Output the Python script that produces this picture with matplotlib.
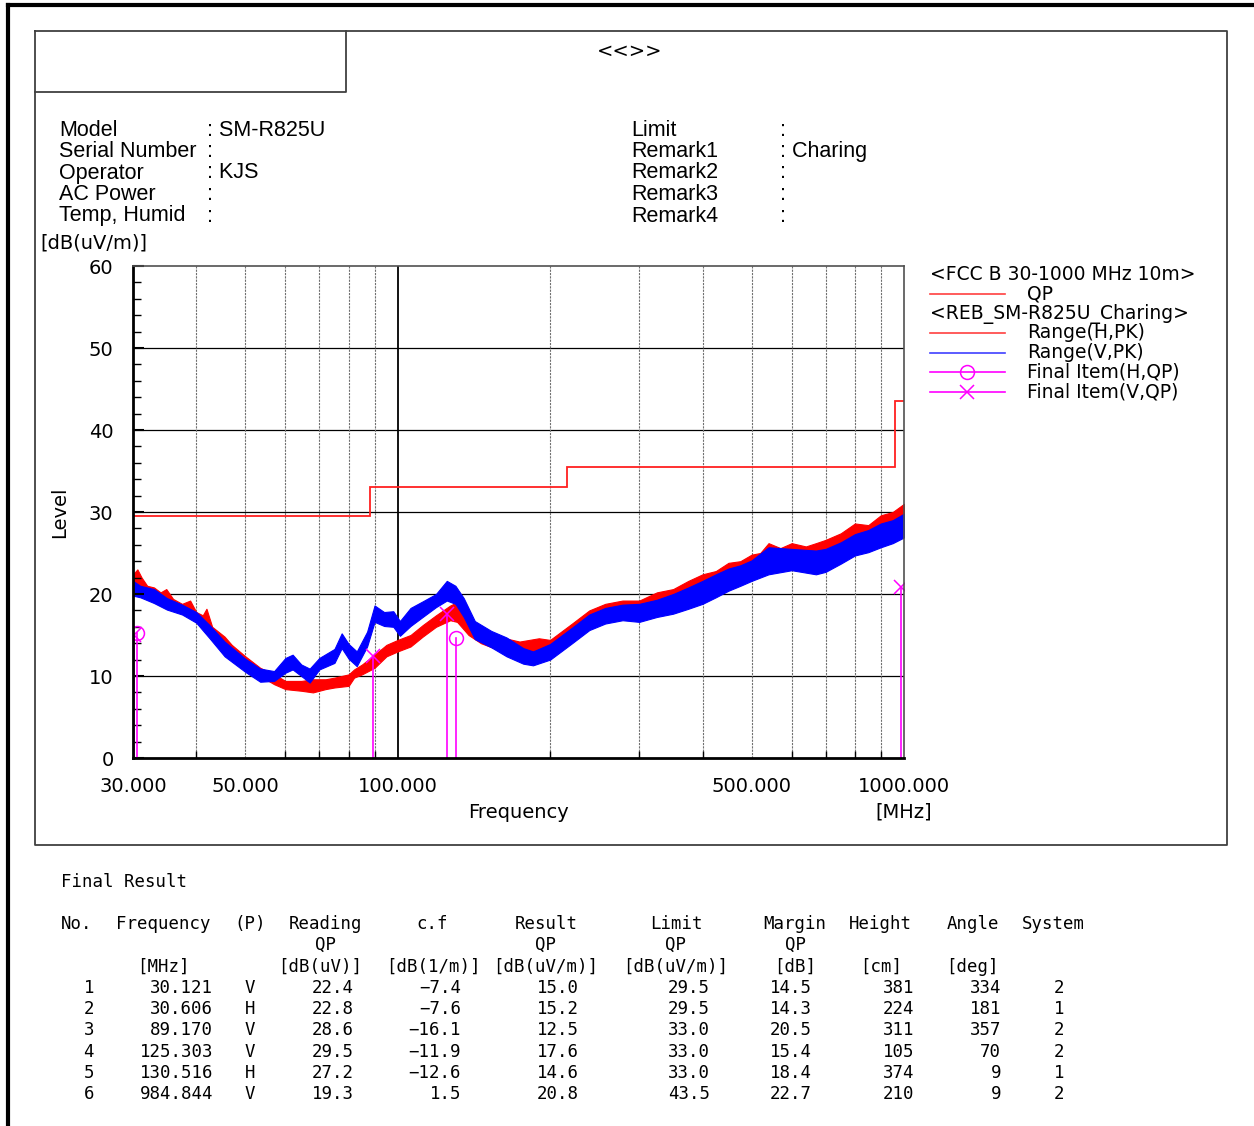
import numpy as np
import matplotlib
matplotlib.use("Agg")
import matplotlib.pyplot as plt

# header info
info_left = ["Model", "Serial Number", "Operator", "AC Power", "Temp, Humid"]
info_left_val = ["SM-R825U", "", "KJS", "", ""]
info_right = ["Limit", "Remark1", "Remark2", "Remark3", "Remark4"]
info_right_val = ["", "Charing", "", "", ""]

# limit line (FCC B 30-1000 MHz 10m, QP)
limit_edges = [30, 88, 216, 960, 1000]
limit_levels = [29.5, 33.0, 35.5, 43.5]

# peak scans: frequency, lower and upper edge of the noise band
h_freq = [30, 30.6, 31.2, 32, 33, 34, 34.9, 36, 37.5, 38.9, 40, 41.2, 41.9, 43, 45.5, 47, 50, 53.5, 57, 60,
          64.5, 68, 72, 75, 80, 82, 85, 90, 95, 100, 106, 112, 119, 127, 131, 138, 146, 158, 174, 190,
          200, 221, 239, 257, 278, 300, 325, 350, 375, 400, 425, 450, 475, 500, 520, 540, 570, 600, 640,
          670, 700, 750, 800, 850, 900, 950, 1000]
h_low = [20.6, 20.8, 20.2, 19.8, 19.4, 19.0, 18.8, 18.2, 17.6, 17.2, 16.6, 16.0, 15.8, 14.8, 13.2, 12.4, 11.2, 10.0, 9.0, 8.4,
         8.2, 8.0, 8.4, 8.6, 8.8, 9.8, 10.2, 11.0, 12.4, 13.0, 13.6, 14.8, 16.0, 16.8, 16.6, 15.0, 14.0, 13.2, 12.6, 12.4,
         12.8, 14.4, 16.0, 16.8, 17.2, 17.4, 18.0, 18.5, 19.0, 19.6, 20.3, 21.0, 21.6, 22.2, 22.6, 23.0, 23.2, 23.4, 23.2,
         23.0, 23.3, 24.2, 25.2, 25.6, 26.2, 26.8, 27.5]
h_high = [22.4, 23.0, 22.0, 21.0, 20.8, 20.2, 20.6, 19.4, 18.8, 19.2, 17.8, 17.4, 18.2, 16.0, 14.8, 13.8, 12.4, 11.0, 10.2, 9.4,
          9.4, 9.6, 9.6, 9.8, 10.2, 10.8, 11.4, 12.6, 13.8, 14.4, 15.0, 16.2, 17.4, 18.6, 19.0, 17.2, 15.8, 14.8, 14.2, 14.6,
          14.4, 16.4, 18.0, 18.8, 19.2, 19.2, 20.2, 20.6, 21.6, 22.4, 22.8, 23.8, 24.0, 24.8, 25.0, 26.2, 25.6, 26.2, 25.8,
          26.2, 26.6, 27.4, 28.6, 28.4, 29.6, 30.0, 31.0]

v_freq = [30, 31, 33, 35, 37.5, 40, 42.5, 45.5, 50, 53.5, 57, 60, 62, 64.5, 67, 70, 75, 77.5, 80, 83, 87, 90, 94, 98,
          101, 106, 112, 119, 125, 130, 135, 142, 153, 164, 177, 185, 200, 221, 239, 257, 278, 300, 325, 350, 375, 400,
          425, 450, 475, 500, 540, 600, 670, 700, 750, 800, 850, 900, 950, 1000]
v_low = [19.8, 19.6, 18.9, 18.1, 17.5, 16.5, 14.6, 12.4, 10.5, 9.3, 9.4, 10.4, 10.8, 10.0, 9.2, 10.8, 11.6, 13.4, 12.1, 11.2, 13.6, 16.6, 16.1, 16.0,
         14.9, 16.1, 17.2, 18.4, 19.2, 18.8, 17.2, 14.5, 13.5, 12.4, 11.5, 11.3, 12.0, 14.0, 15.6, 16.4, 16.8, 16.6, 17.2, 17.6, 18.2, 18.8,
         19.6, 20.4, 21.0, 21.6, 22.4, 22.9, 22.4, 22.7, 23.7, 24.7, 25.1, 25.7, 26.2, 26.9]
v_high = [21.6, 21.0, 20.6, 19.5, 18.7, 17.8, 16.2, 14.2, 12.1, 10.9, 10.6, 12.2, 12.6, 11.4, 10.9, 12.2, 13.3, 15.2, 13.9, 13.0, 15.4, 18.6, 17.8, 17.9,
          16.7, 18.3, 19.1, 20.0, 21.6, 21.0, 19.5, 16.7, 15.5, 14.7, 13.4, 13.0, 13.9, 15.9, 17.5, 18.3, 18.7, 18.8, 19.3, 20.0, 20.8, 21.6,
          22.4, 23.1, 23.5, 24.1, 25.7, 25.5, 25.3, 25.5, 26.3, 27.3, 27.8, 28.6, 29.0, 29.8]

# final QP results
res_no = [1, 2, 3, 4, 5, 6]
res_freq = [30.121, 30.606, 89.170, 125.303, 130.516, 984.844]
res_pol = ["V", "H", "V", "V", "H", "V"]
res_reading = [22.4, 22.8, 28.6, 29.5, 27.2, 19.3]
res_cf = [-7.4, -7.6, -16.1, -11.9, -12.6, 1.5]
res_result = [15.0, 15.2, 12.5, 17.6, 14.6, 20.8]
res_limit = [29.5, 29.5, 33.0, 33.0, 33.0, 43.5]
res_margin = [14.5, 14.3, 20.5, 15.4, 18.4, 22.7]
res_height = [381, 224, 311, 105, 374, 210]
res_angle = [334, 181, 357, 70, 9, 9]
res_system = [2, 1, 2, 2, 1, 2]

x_ticks = [30, 50, 100, 500, 1000]
x_ticklabels = ["30.000", "50.000", "100.000", "500.000", "1000.000"]

W, H = 1254, 1126
fig = plt.figure(figsize=(W / 100, H / 100), dpi=100)
bg = fig.add_axes([0, 0, 1, 1])
bg.set_xlim(0, W)
bg.set_ylim(H, 0)
bg.axis("off")

HF = "Liberation Sans"
PF = "DejaVu Sans"
MF = "DejaVu Sans Mono"
MAG = "#FF00FF"

# frames
bg.plot([8, W], [5, 5], color="black", lw=3)
bg.plot([8, 8], [5, H], color="black", lw=3)
bg.plot([35, 1227, 1227, 35, 35], [31, 31, 845, 845, 31], color="#404040", lw=1.3)
bg.plot([346, 346, 35], [31, 92, 92], color="#404040", lw=1.3)
bg.text(630, 51, "<<>>", fontsize=14, family=PF, ha="center", va="center")

# header block
for i in range(5):
    y = 130 + i * 21.5
    bg.text(59, y, info_left[i], fontsize=15.5, family=HF, va="center")
    bg.text(207, y, ": " + info_left_val[i], fontsize=15.5, family=HF, va="center")
    bg.text(631, y, info_right[i], fontsize=15.5, family=HF, va="center")
    bg.text(780, y, ": " + info_right_val[i], fontsize=15.5, family=HF, va="center")

bg.text(40, 243, "[dB(uV/m)]", fontsize=14, family=PF, va="center")
bg.text(60, 512, "Level", fontsize=14, family=PF, va="center", ha="center", rotation=90)
bg.text(519, 812, "Frequency", fontsize=14, family=PF, va="center", ha="center")
bg.text(904, 812, "[MHz]", fontsize=14, family=PF, va="center", ha="center")

# main chart
ax = fig.add_axes([133 / W, 1 - 758 / H, 771 / W, 492 / H])
ax.set_xscale("log")
ax.fill_between(h_freq, h_low, h_high, color="#FF0000", lw=0.8)
ax.fill_between(v_freq, v_low, v_high, color="#0000FF", lw=0.8)
ax.stairs(limit_levels, limit_edges, color="#FF2020", lw=1.3, baseline=None)

for f, p, r in zip(res_freq, res_pol, res_result):
    ax.plot([f, f], [0, r], color=MAG, lw=1.2)
    if p == "H":
        ax.plot(f, r, marker="o", ms=10, mfc="none", mec=MAG, mew=1.1)
    else:
        ax.plot(f, r, marker="x", ms=10, mec=MAG, mew=1.1)

ax.set_xlim(30, 1000)
ax.set_ylim(0, 60)
for v in [10, 20, 30, 40, 50]:
    ax.axhline(v, color="black", lw=0.9, zorder=0.5)
for f in [40, 50, 60, 70, 80, 90, 200, 300, 400, 500, 600, 700, 800, 900]:
    ax.axvline(f, color="#707070", lw=0.8, ls=(0, (2, 1)), zorder=0.5)
ax.axvline(100, color="black", lw=1.3, zorder=0.5)

ax.set_xticks(x_ticks)
ax.set_xticklabels(x_ticklabels)
ax.set_xticks([40, 60, 70, 80, 90, 200, 300, 400, 600, 700, 800, 900], minor=True)
ax.xaxis.set_minor_formatter(matplotlib.ticker.NullFormatter())
ax.set_yticks(np.arange(0, 61, 10))
ax.set_yticks(np.arange(0, 61, 2), minor=True)
ax.tick_params(axis="both", which="both", direction="in", labelsize=14)
ax.tick_params(axis="y", which="major", length=8, width=1.5, pad=14)
ax.tick_params(axis="y", which="minor", length=6, width=1)
ax.tick_params(axis="x", which="major", length=0, pad=14)
ax.tick_params(axis="x", which="minor", length=5, width=1)
for s in ["left", "bottom"]:
    ax.spines[s].set_linewidth(2)
for s in ["top", "right"]:
    ax.spines[s].set_color("#505050")
    ax.spines[s].set_linewidth(1.2)

# legend
bg.text(930, 275, "<FCC B 30-1000 MHz 10m>", fontsize=13.5, family=PF, va="center")
bg.plot([930, 1005], [294, 294], color="#FF4040", lw=1.2)
bg.text(1027, 294, "QP", fontsize=13.5, family=PF, va="center")
bg.text(930, 314, "<REB_SM-R825U_Charing>", fontsize=13.5, family=PF, va="center")
bg.plot([930, 1005], [333, 333], color="#FF4040", lw=1.2)
bg.text(1027, 333, "Range(H,PK)", fontsize=13.5, family=PF, va="center")
bg.plot([930, 1005], [353, 353], color="#4040FF", lw=1.2)
bg.text(1027, 353, "Range(V,PK)", fontsize=13.5, family=PF, va="center")
bg.plot([930, 1005], [372, 372], color=MAG, lw=1.2)
bg.plot(967, 372, marker="o", ms=10, mfc="none", mec=MAG, mew=1.1)
bg.text(1027, 372, "Final Item(H,QP)", fontsize=13.5, family=PF, va="center")
bg.plot([930, 1005], [392, 392], color=MAG, lw=1.2)
bg.plot(967, 392, marker="x", ms=10, mec=MAG, mew=1.1)
bg.text(1027, 392, "Final Item(V,QP)", fontsize=13.5, family=PF, va="center")

# result table
TS = 12.5
bg.text(61, 882, "Final Result", fontsize=TS, family=MF, va="center")
heads = [(77, "No."), (163, "Frequency"), (250, "(P)"), (325, "Reading"), (432, "c.f"),
         (546, "Result"), (676, "Limit"), (795, "Margin"), (880, "Height"), (973, "Angle"), (1053, "System")]
for x, t in heads:
    bg.text(x, 924, t, fontsize=TS, family=MF, va="center", ha="center")
for x, t in [(325, "QP"), (546, "QP"), (676, "QP"), (795, "QP")]:
    bg.text(x, 945, t, fontsize=TS, family=MF, va="center", ha="center")
units = [(163, "[MHz]"), (320, "[dB(uV)]"), (433, "[dB(1/m)]"), (546, "[dB(uV/m)]"), (676, "[dB(uV/m)]"),
         (795, "[dB]"), (881, "[cm]"), (972, "[deg]")]
for x, t in units:
    bg.text(x, 967, t, fontsize=TS, family=MF, va="center", ha="center")

for i in range(len(res_no)):
    y = 988 + i * 21.2
    cf = ("%.1f" % res_cf[i]).replace("-", "\u2212")
    row = [(94, str(res_no[i]), "right"), (213, "%.3f" % res_freq[i], "right"), (250, res_pol[i], "center"),
           (354, "%.1f" % res_reading[i], "right"), (461, cf, "right"),
           (579, "%.1f" % res_result[i], "right"), (710, "%.1f" % res_limit[i], "right"),
           (812, "%.1f" % res_margin[i], "right"), (914, str(res_height[i]), "right"),
           (1001, str(res_angle[i]), "right"), (1064, str(res_system[i]), "right")]
    for x, t, a in row:
        bg.text(x, y, t, fontsize=TS, family=MF, va="center", ha=a)

fig.savefig("out.png", dpi=100)
